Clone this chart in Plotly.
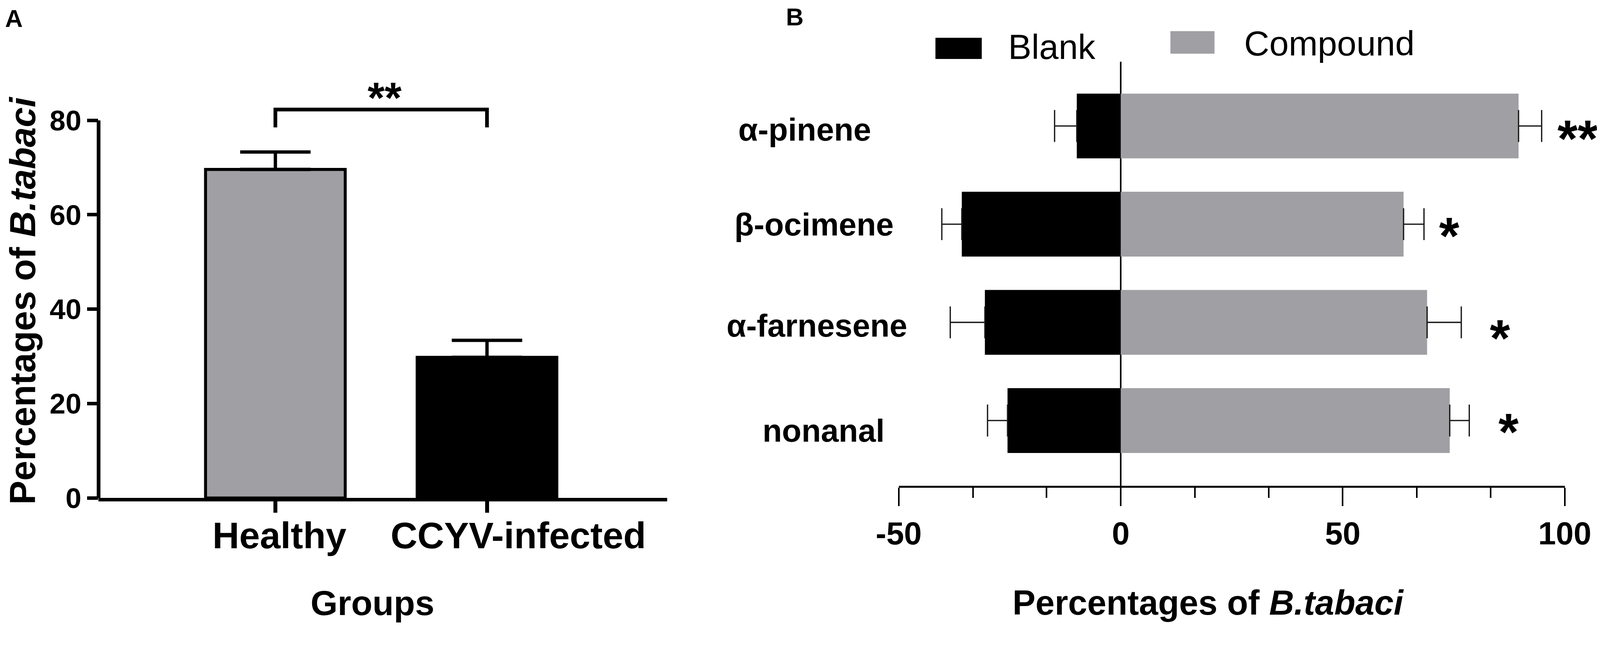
import plotly.graph_objects as go

# ---- panel A : healthy vs infected plants ----
groups = ["Healthy", "CCYV-infected"]
group_mean = [69.6, 29.8]
group_sem = [3.7, 3.6]
group_colors = ["#a0a0a4", "#000000"]
a_yticks = [0, 20, 40, 60, 80]

# ---- panel B : single compounds vs blank ----
compounds = ["α-pinene", "β-ocimene", "α-farnesene", "nonanal"]
blank_mean = [-9.9, -35.8, -30.6, -25.5]
blank_sem = [5.0, 4.5, 7.8, 4.5]
compound_mean = [89.6, 63.7, 69.0, 74.1]
compound_sem = [5.2, 4.6, 7.7, 4.4]
signif = ["**", "*", "*", "*"]
b_xticks = [-50, 0, 50, 100]
b_ticktext = ["-50", "0", "50", "100"]
b_minor = [-33.3, -16.7, 16.7, 33.3, 66.7, 83.3]

FONT = "Liberation Sans, Arial, sans-serif"
GRAY = "#a0a0a4"

# positions below are pixels of the 4317 x 1685 photo; the page shows up
# magnified by about 5% (plus the 8px body margin), so convert here
S, OFF = 1.054, 8.4
WF, HF = 4088, 1591


def px(x):
    return (x - OFF) / S / WF


def py(y):
    return 1 - (y - OFF) / S / HF


def sz(v):
    return v / S


def bold(size):
    return dict(family=FONT, size=sz(size), color="black", weight="bold")


fig = go.Figure()

# panel A bars
xa = list(range(len(groups)))
fig.add_trace(go.Bar(
    x=xa, y=group_mean, width=0.66,
    marker=dict(color=group_colors, line=dict(color="black", width=sz(8))),
    error_y=dict(type="data", array=group_sem, arrayminus=[0] * len(groups),
                 symmetric=False, color="black", thickness=sz(9), width=sz(95)),
    xaxis="x", yaxis="y", showlegend=False, hoverinfo="x+y"))

# significance bracket above the two bars
top = max(m + s for m, s in zip(group_mean, group_sem))
br_hi, br_lo = top + 9.0, top + 5.2
fig.add_trace(go.Scatter(
    x=[xa[0], xa[0], xa[1], xa[1]], y=[br_lo, br_hi, br_hi, br_lo],
    mode="lines", line=dict(color="black", width=sz(10)),
    xaxis="x", yaxis="y", showlegend=False, hoverinfo="skip"))

# panel B bars
err_style = dict(type="data", symmetric=False, color="#1a1a1a",
                 thickness=sz(3.5), width=sz(43))
fig.add_trace(go.Bar(
    y=compounds, x=blank_mean, orientation="h", width=0.66, name="Blank",
    marker=dict(color="black", line=dict(width=0)),
    error_x=dict(err_style, array=[0] * len(compounds), arrayminus=blank_sem),
    xaxis="x2", yaxis="y2", showlegend=False))
fig.add_trace(go.Bar(
    y=compounds, x=compound_mean, orientation="h", width=0.66, name="Compound",
    marker=dict(color=GRAY, line=dict(width=0)),
    error_x=dict(err_style, array=compound_sem, arrayminus=[0] * len(compounds)),
    xaxis="x2", yaxis="y2", showlegend=False))

ann = []
# panel A texts
ann.append(dict(text="A", x=px(12), y=py(50), xref="paper", yref="paper",
                xanchor="left", yanchor="middle", showarrow=False, font=bold(66)))
ann.append(dict(text="**", x=0.5, y=br_hi, xref="x", yref="y", xshift=sz(10),
                yshift=sz(31), xanchor="center", yanchor="middle", showarrow=False,
                font=bold(118)))
label_dx = [11, 85]
for i, g in enumerate(groups):
    ann.append(dict(text=g, x=xa[i], y=py(1445), xref="x", yref="paper",
                    xshift=sz(label_dx[i]), xanchor="center", yanchor="middle",
                    showarrow=False, font=bold(100)))
ann.append(dict(text="Groups", x=px(1005), y=py(1627), xref="paper", yref="paper",
                xanchor="center", yanchor="middle", showarrow=False, font=bold(94)))
ann.append(dict(text="Percentages of <i>B.tabaci</i>", x=px(62), y=py(811),
                xref="paper", yref="paper", textangle=-90, xanchor="center",
                yanchor="middle", showarrow=False, font=bold(97)))

# panel B texts
ann.append(dict(text="B", x=px(2118), y=py(45), xref="paper", yref="paper",
                xanchor="left", yanchor="middle", showarrow=False, font=bold(66)))
label_left = [1990, 1979, 1958, 2055]
label_dy = [-9, 0, -8, -27]
for i, c in enumerate(compounds):
    ann.append(dict(text=c, x=px(label_left[i]), y=c, xref="paper", yref="y2",
                    yshift=sz(label_dy[i]), xanchor="left", yanchor="middle",
                    showarrow=False, font=bold(86)))
star_dx = [97, 68, 104, 106]
star_dy = [-34, -32, -43, -31]
for i, c in enumerate(compounds):
    ann.append(dict(text=signif[i], x=compound_mean[i] + compound_sem[i], y=c,
                    xref="x2", yref="y2", xshift=sz(star_dx[i]), yshift=sz(star_dy[i]),
                    xanchor="center", yanchor="middle", showarrow=False,
                    font=bold(140)))
ann.append(dict(text="Percentages of <i>B.tabaci</i>", x=px(3260), y=py(1627),
                xref="paper", yref="paper", xanchor="center", yanchor="middle",
                showarrow=False, font=bold(93)))

# hand made legend for panel B
legend_items = [("Blank", "black", (2524, 2649, 102, 159), 2718, 126),
                ("Compound", GRAY, (3158, 3277, 84, 145), 3355, 117)]
shapes = []
for name, col, (x0, x1, y0, y1), tx, ty in legend_items:
    shapes.append(dict(type="rect", xref="paper", yref="paper", x0=px(x0), x1=px(x1),
                       y0=py(y1), y1=py(y0), fillcolor=col, line=dict(width=0)))
    ann.append(dict(text=name, x=px(tx), y=py(ty), xref="paper", yref="paper",
                    xanchor="left", yanchor="middle", showarrow=False,
                    font=dict(family=FONT, size=sz(94), color="black")))

# y axis line of panel A stops at the last tick
shapes.append(dict(type="line", xref="x domain", yref="y", x0=0, x1=0,
                   y0=a_yticks[0], y1=a_yticks[-1],
                   line=dict(color="black", width=sz(10))))

# panel A x axis: categories sit at 743 px and 1314 px, line runs 266..1800 px
a_x0, a_x1, a_c0, a_c1 = 266, 1800, 743, 1314
a_range = [(a_x0 - a_c0) / (a_c1 - a_c0), (a_x1 - a_c0) / (a_c1 - a_c0)]

fig.update_layout(
    template="none",
    width=WF, height=HF, autosize=False,
    margin=dict(l=0, r=0, t=0, b=0, pad=0, autoexpand=False),
    paper_bgcolor="white", plot_bgcolor="white",
    barmode="overlay",
    font=dict(family=FONT, color="black"),
    annotations=ann, shapes=shapes,
    xaxis=dict(domain=[px(a_x0), px(a_x1)], range=a_range, anchor="y",
               automargin=False,
               tickvals=xa, showticklabels=False, ticks="outside", ticklen=sz(31),
               tickwidth=sz(11), tickcolor="black", showline=True,
               linewidth=sz(9), linecolor="black", showgrid=False, zeroline=False),
    yaxis=dict(domain=[py(1344), py(70)], range=[0, 100], anchor="x",
               automargin=False,
               tickvals=a_yticks, ticks="outside", ticklen=sz(30), tickwidth=sz(10),
               tickcolor="black", tickfont=bold(77), showline=False,
               showgrid=False, zeroline=False),
    xaxis2=dict(domain=[px(2425), px(4222)], range=[-50, 100], anchor="y2",
                automargin=False,
                tickvals=b_xticks, ticktext=b_ticktext, ticks="outside",
                ticklen=sz(50), tickwidth=sz(4),
                tickcolor="black", tickfont=bold(86),
                minor=dict(tickvals=b_minor, ticks="outside", ticklen=sz(28),
                           tickwidth=sz(4), tickcolor="black"),
                showline=True, linewidth=sz(5), linecolor="black", showgrid=False,
                zeroline=True, zerolinewidth=sz(4), zerolinecolor="black"),
    yaxis2=dict(domain=[py(1311), py(167)], range=[3.664, -0.653], anchor="x2",
                automargin=False,
                type="category", categoryarray=compounds, showticklabels=False,
                ticks="", showline=False, showgrid=False, zeroline=False),
)

fig.write_html("out.html")
